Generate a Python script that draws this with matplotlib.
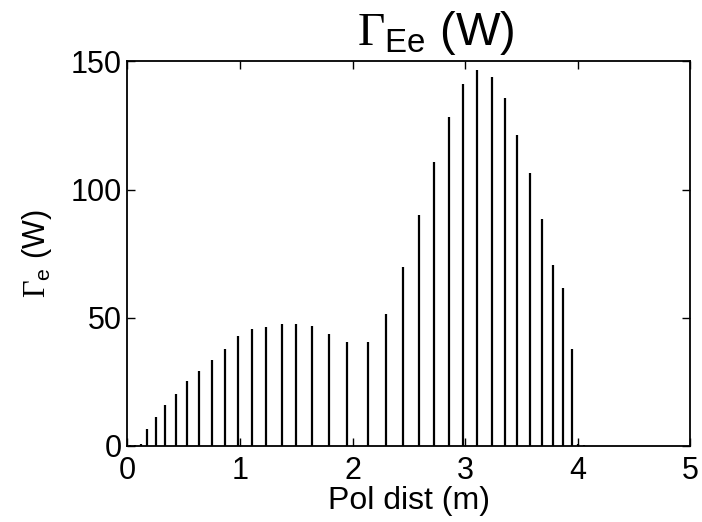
import matplotlib
matplotlib.use('Agg')
import matplotlib.pyplot as plt

# poloidal distance (m) and Gamma_e (W)
pol_dist = [0.02, 0.07, 0.12, 0.176, 0.251, 0.336, 0.431, 0.529, 0.636, 0.748,
            0.864, 0.985, 1.104, 1.234, 1.376, 1.500, 1.643, 1.788, 1.954, 2.135,
            2.298, 2.446, 2.588, 2.727, 2.855, 2.982, 3.109, 3.240, 3.356, 3.465,
            3.578, 3.684, 3.782, 3.871, 3.954, 4.007, 4.06]
gamma_e = [0.5, 0.5, 0.6, 6.8, 11.5, 15.8, 20.3, 25.2, 29.3, 33.6,
           37.8, 43.0, 45.5, 46.5, 47.5, 47.7, 46.9, 43.5, 40.6, 40.6,
           51.4, 69.7, 90.1, 110.9, 128.3, 141.2, 146.5, 144.1, 135.7, 121.4,
           106.4, 88.4, 70.6, 61.7, 38.0, 0.8, 0.5]
xticks = [0, 1, 2, 3, 4, 5]
yticks = [0, 50, 100, 150]

plt.rcParams['font.family'] = ['Liberation Sans', 'DejaVu Sans']
plt.rcParams['mathtext.fontset'] = 'custom'
plt.rcParams['mathtext.rm'] = 'Liberation Serif'
plt.rcParams['mathtext.sf'] = 'Liberation Sans'

fig = plt.figure(figsize=(7.02, 5.22), dpi=100)
ax = fig.add_axes([0.1816, 0.1456, 0.8014, 0.7366])

ax.vlines(pol_dist, 0, gamma_e, colors='black', linewidth=1.6)

ax.set_xlim(0, 5)
ax.set_ylim(0, 150)
ax.set_xticks(xticks)
ax.set_yticks(yticks)
ax.tick_params(direction='in', top=True, right=True, length=6, width=1,
               labelsize=22)
ax.tick_params(axis='x', pad=7)
ax.tick_params(axis='y', pad=4)
for s in ax.spines.values():
    s.set_linewidth(1.3)

ax.set_xlabel('Pol dist (m)', fontsize=23, labelpad=0)
ax.set_ylabel(r'$\Gamma_{\mathsf{e}}$ (W)', fontsize=22, labelpad=12)

fig.text(0.621, 0.9138, r'$\Gamma_{\mathsf{Ee}}$ (W)', fontsize=34,
         ha='center', va='baseline')

fig.savefig('out.png', dpi=100)
